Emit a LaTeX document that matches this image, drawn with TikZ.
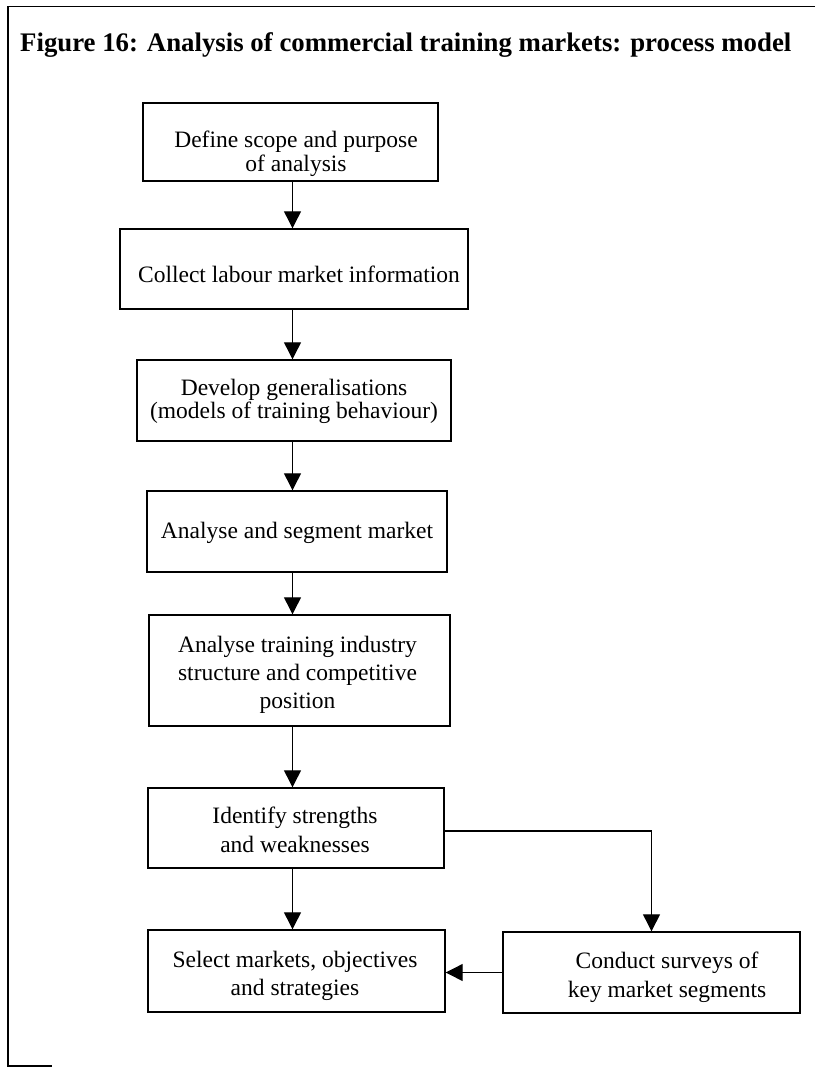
\documentclass[tikz,border=0pt]{standalone}
\usepackage{fontspec}
\setmainfont{Liberation Serif}
\usetikzlibrary{arrows.meta}
\newcommand\boxlines[2]{{\fontsize{23.5}{#1}\selectfont\begin{tabular}[t]{@{}c@{}}#2\end{tabular}}}
\begin{document}
\begin{tikzpicture}[x=1pt,y=-1pt,
  stepbox/.style={draw,line width=1.4pt,inner sep=0pt,rectangle},
  txt/.style={anchor=base,inner sep=0pt,font=\fontsize{23.5}{24}\selectfont},
  arr/.style={line width=1.2pt,-{Triangle[length=17pt,width=17pt]}},
  frame/.style={line width=1.3pt}]
\useasboundingbox (0,0) rectangle (815,1067);
% outer frame
\coordinate (ftr) at (815,6.5);
\coordinate (ftl) at (8,6.5);
\coordinate (fbl) at (8,1066);
\coordinate (fbr) at (52,1066);
\draw[frame] (ftr) -- (ftl) -- (fbl) -- (fbr);
% title
\node[anchor=base west,inner sep=0pt,font=\fontsize{26.8}{30}\selectfont\bfseries] (title) at (20,52)
  {Figure 16: Analysis of commercial training markets: process model};
% boxes
\node[stepbox,minimum width=295pt,minimum height=78pt] (b1) at (290.5,142) {};
\node[stepbox,minimum width=348pt,minimum height=80pt] (b2) at (294,269) {};
\node[stepbox,minimum width=314pt,minimum height=81pt] (b3) at (294,400.5) {};
\node[stepbox,minimum width=300pt,minimum height=81pt] (b4) at (297,531.5) {};
\node[stepbox,minimum width=301pt,minimum height=111pt] (b5) at (299.5,670.5) {};
\node[stepbox,minimum width=296pt,minimum height=80pt] (b6) at (296,828) {};
\node[stepbox,minimum width=297pt,minimum height=82pt] (b7) at (296.5,971) {};
\node[stepbox,minimum width=297pt,minimum height=81pt] (b8) at (651.5,972.5) {};
% texts
\node[txt] (t1) at (296,148) {\boxlines{23.5}{Define scope and purpose\\of analysis}};
\node[txt] (t2) at (299,282) {\boxlines{24}{Collect labour market information}};
\node[txt] (t3) at (294,395) {\boxlines{23.5}{Develop generalisations\\(models of training behaviour)}};
\node[txt] (t4) at (297,538) {\boxlines{24}{Analyse and segment market}};
\node[txt] (t5) at (297.5,652) {\boxlines{28}{Analyse training industry\\structure and competitive\\position}};
\node[txt] (t6) at (295,823) {\boxlines{29}{Identify strengths\\and weaknesses}};
\node[txt] (t7) at (295,967) {\boxlines{28}{Select markets, objectives\\and strategies}};
\node[txt] (t8) at (667,968) {\boxlines{29}{Conduct surveys of\\key market segments}};
% connectors
\coordinate (col) at (292.5,0);
\draw[arr] (b1.south -| col) -- (b2.north -| col);
\draw[arr] (b2.south -| col) -- (b3.north -| col);
\draw[arr] (b3.south -| col) -- (b4.north -| col);
\draw[arr] (b4.south -| col) -- (b5.north -| col);
\draw[arr] (b5.south -| col) -- (b6.north -| col);
\draw[arr] (b6.south -| col) -- (b7.north -| col);
\coordinate (br) at (651.5,831);
\draw[arr] (b6.east |- br) -| (b8.north);
\draw[arr] (b8.west) -- (b7.east |- b8.west);
\end{tikzpicture}
\end{document}
